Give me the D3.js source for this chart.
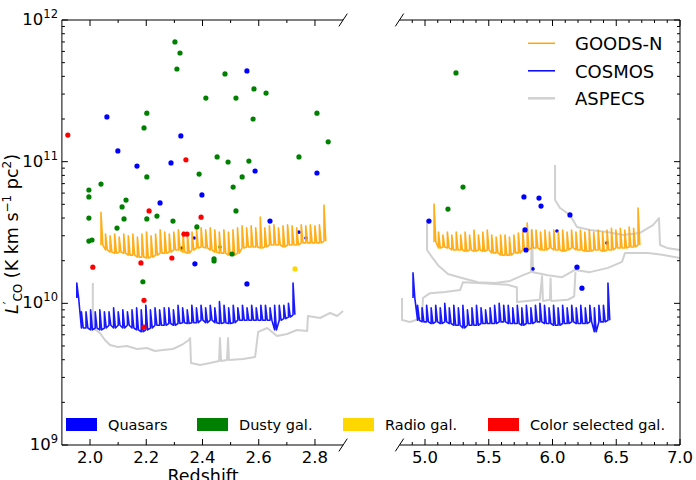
<!DOCTYPE html>
<html>
<head>
<meta charset="utf-8">
<script src="https://cdn.jsdelivr.net/npm/d3@7"></script>
<style>
  body { margin: 0; background: #fff; }
  svg { display: block; font-family: "DejaVu Sans", sans-serif; }
</style>
</head>
<body>
<div id="chart"></div>
<script>
// values of L'CO are in units of 1e10 K km s^-1 pc^2
const unit = 1e10

/*----- scatter: detected sources [redshift, L'CO] -----*/
const quasars = [[2.060,20.7],[2.099,11.9],[2.167,9.31],[2.249,5.11],[2.288,9.79],[2.323,15.2],[2.398,5.82],[2.373,1.90],
    [2.558,43.7],[2.587,8.59],[2.640,3.81],[2.807,8.32],[2.558,1.37],
    [5.031,3.81],[5.776,5.64],[5.894,5.53],[5.910,4.86],[6.137,4.21],[5.784,3.30],[5.792,2.38],[6.192,1.80],[6.231,1.28]]
const quasarsFaint = [[2.370,2.89],[2.743,3.18],[2.768,2.89],[6.035,3.24],[6.427,2.67],[5.847,1.75]]
const dusty = [[2.302,70.0],[2.320,58.5],[2.309,45.1],[2.480,41.6],[2.412,28.1],[2.519,28.1],[2.583,32.6],[2.626,30.5],
    [2.580,20.0],[2.202,22.0],[2.192,17.3],[2.807,22.0],[2.847,13.8],[2.452,10.8],[2.565,10.1],[2.491,9.95],[2.743,10.8],
    [2.388,8.18],[2.202,7.80],[2.541,7.80],[2.039,6.95],[1.996,6.31],[1.996,5.64],[2.509,6.62],[2.128,5.36],[2.114,4.79],
    [2.519,4.49],[1.996,4.00],[2.121,3.94],[2.202,3.94],[2.238,4.13],[2.295,3.81],[2.096,3.40],[2.380,3.46],[1.996,2.75],
    [2.007,2.80],[2.441,2.06],[2.441,1.99],[2.505,2.23],[2.188,1.42],
    [5.243,42.3],[5.298,6.62],[5.180,4.63]]
const dustyFaint = [[2.327,2.46],[2.462,2.50]]
const radio = [[2.729,1.75]]
const colorSelected = [[1.921,15.4],[2.341,10.3],[2.210,4.49],[2.395,4.06],[2.334,3.08],[2.345,3.08],[2.010,1.80],
    [2.181,1.93],[2.291,2.09],[2.192,1.05],[2.192,0.68]]

/*----- survey sensitivity curves (comb of channels: base and spike top) -----*/
const goodsLeftRange = [2.039, 2.832]
const goodsLeftBase = [2.58,2.38,2.30,2.26,2.30,2.26,2.19,2.19,2.12,2.12,
    2.09,2.12,2.19,2.26,2.26,2.30,2.38,2.38,2.30,2.26,
    2.38,2.46,2.50,2.46,2.38,2.30,2.26,2.26,2.19,2.19,
    2.26,2.46,2.50,2.50,2.50,2.46,2.50,2.58,2.58,2.58,
    2.50,2.58,2.58,2.58,2.67,2.67,2.67,2.67,2.67,2.75]
const goodsLeftTop = [4.40,3.08,3.00,3.08,2.94,3.08,3.00,3.08,2.94,3.08,
    3.19,3.00,3.08,3.30,3.19,3.08,3.19,3.30,3.19,3.08,
    3.19,3.30,3.41,3.30,3.41,3.30,3.19,3.30,3.19,3.30,
    3.41,3.52,3.41,3.52,3.41,4.07,3.41,3.52,3.58,3.41,
    3.52,3.58,3.52,3.41,3.58,3.52,3.58,3.52,3.58,4.95]

const goodsRightRange = [5.071, 6.671]
const goodsRightBase = [2.71,2.46,2.50,2.46,2.38,2.38,2.38,2.33,2.38,2.33,
    2.38,2.33,2.38,2.27,2.27,2.19,2.19,2.19,2.27,2.27,
    2.38,2.38,2.46,2.46,2.38,2.38,2.46,2.38,2.38,2.33,
    2.38,2.46,2.38,2.38,2.33,2.33,2.38,2.38,2.33,2.38,
    2.38,2.46,2.46,2.46,2.50,2.50,2.58]
const goodsRightTop = [5.02,3.19,3.04,3.19,3.04,3.19,3.04,3.19,3.04,3.29,
    3.04,3.19,3.29,3.04,2.94,3.04,3.04,2.94,3.04,3.14,
    3.19,3.69,3.29,3.29,3.19,3.29,3.19,3.29,3.19,3.29,
    3.19,3.29,3.19,3.29,3.19,3.29,3.19,3.29,3.19,3.29,
    3.38,3.29,3.38,3.29,3.46,3.38,4.71]

const cosmosLeftRange = [1.953, 2.722]
const cosmosLeftBase = [1.09,0.67,0.67,0.65,0.67,0.65,0.67,0.70,0.67,0.70,
    0.67,0.70,0.67,0.65,0.63,0.65,0.67,0.70,0.70,0.70,
    0.72,0.70,0.72,0.73,0.72,0.73,0.73,0.76,0.73,0.76,
    0.73,0.72,0.73,0.72,0.73,0.76,0.76,0.76,0.76,0.76,
    0.76,0.76,0.76,0.65,0.76,0.78,0.80,0.83]
const cosmosLeftTop = [1.39,0.87,0.87,0.90,0.87,0.90,0.87,0.87,0.93,0.87,
    0.90,0.87,0.90,0.93,0.90,0.97,0.90,0.93,0.90,0.93,
    0.93,0.90,0.97,0.93,0.90,0.97,0.93,0.97,0.93,0.97,
    0.93,1.03,0.97,0.93,0.97,0.93,0.97,0.93,0.97,0.93,
    0.97,0.97,0.93,0.97,0.97,0.97,1.00,1.39]

const cosmosRightRange = [4.906, 6.435]
const cosmosRightBase = [1.09,0.76,0.74,0.74,0.72,0.74,0.72,0.74,0.72,0.70,
    0.70,0.67,0.70,0.70,0.70,0.72,0.72,0.72,0.72,0.74,
    0.74,0.72,0.72,0.72,0.70,0.72,0.72,0.74,0.74,0.72,
    0.72,0.70,0.70,0.72,0.72,0.74,0.72,0.72,0.72,0.74,
    0.63,0.74,0.74,0.76]
const cosmosRightTop = [1.64,0.97,0.93,0.97,0.93,0.97,0.93,1.00,0.93,0.97,
    0.93,0.97,0.90,0.93,0.97,0.93,0.90,0.93,0.97,1.00,
    0.97,0.97,0.93,0.97,0.93,0.97,0.93,0.97,1.00,0.97,
    0.93,0.97,0.93,0.97,0.93,0.97,0.93,0.97,0.93,0.97,
    0.93,0.97,0.97,1.39]

const aspecsLeft = [[2.010,1.39],[2.010,0.681],[2.021,0.648],[2.035,0.618],[2.053,0.551],[2.071,0.508],[2.099,0.492],
    [2.131,0.500],[2.167,0.476],[2.202,0.484],[2.231,0.461],[2.259,0.469],[2.295,0.476],[2.331,0.516],[2.352,0.551],
    [2.356,0.569],[2.359,0.379],[2.391,0.367],[2.427,0.379],[2.459,0.392],[2.462,0.569],[2.466,0.392],[2.487,0.398],
    [2.491,0.569],[2.494,0.398],[2.544,0.405],[2.587,0.418],[2.598,0.628],[2.630,0.670],[2.665,0.588],[2.701,0.608],
    [2.736,0.648],[2.772,0.638],[2.775,0.814],[2.818,0.788],[2.854,0.855],[2.879,0.814],[2.900,0.883]]
const aspecsRightA = [[5.016,3.87],[5.016,2.38],[5.055,2.12],[5.102,1.86],[5.180,1.61],[5.290,1.51],[5.416,1.41],
    [5.549,1.39],[5.667,1.44],[5.769,1.58],[5.831,1.66],[5.839,3.29],[5.847,1.66],[5.965,1.58],[6.075,1.53],
    [6.176,1.72],[6.294,1.66],[6.435,1.78],[6.545,1.96],[6.569,2.27],[6.749,2.27],[6.859,2.20],[7.000,2.09]]
const aspecsRightB = [[6.020,9.47],[6.020,5.36],[6.059,4.71],[6.137,4.20],[6.192,3.46],[6.294,3.29],[6.427,3.19],
    [6.553,3.04],[6.686,3.14],[6.788,3.57],[6.835,4.00],[6.843,2.58],[6.898,2.46],[7.000,2.38]]
const aspecsRightC = [[4.820,1.09],[4.820,0.763],[4.882,0.738],[4.976,0.788],[4.984,1.09],[5.039,1.18],[5.157,1.20],
    [5.275,1.24],[5.298,1.41],[5.420,1.39],[5.550,1.37],[5.650,1.35],[5.720,1.30],[5.722,1.02],[5.800,1.04],
    [5.900,1.06],[5.918,1.55],[5.925,1.04],[5.980,1.06],[5.985,1.50],[5.990,1.04],[6.120,1.06],[6.170,1.12],[6.180,1.66]]

/*----- labels -----*/
const leftTicks = [2.0, 2.2, 2.4, 2.6, 2.8]
const rightTicks = [5.0, 5.5, 6.0, 6.5, 7.0]
const yTicks = [1e9, 1e10, 1e11, 1e12]
const lineLegend = [["GOODS-N", "orange", 1.5], ["COSMOS", "#0000ff", 1.5], ["ASPECS", "#d0d0d0", 2.5]]
const typeLegend = [["Quasars", "#0000ff", 66], ["Dusty gal.", "#008000", 197], ["Radio gal.", "#ffd700", 343], ["Color selected gal.", "#ff0000", 488]]

/*_______________ DRAWING _______________*/

const width = 696, height = 480
const plotTop = 20, plotBottom = 445

const svg = d3.select("#chart").append("svg")
    .attr("width", width)
    .attr("height", height)

const xLeft = d3.scaleLinear().domain([1.9, 2.9]).range([61.9, 343.1])
const xRight = d3.scaleLinear().domain([4.8, 7.0]).range([399.5, 680])
const y = d3.scaleLog().domain([1e9, 1e12]).range([plotBottom, plotTop])
const xOf = z => z < 4 ? xLeft(z) : xRight(z)

const line = d3.line()
    .x(d => xOf(d[0]))
    .y(d => y(d[1] * unit))

// comb: each channel rises to its spike top and falls back to its base
function comb(range, base, topv) {
    const step = (range[1] - range[0]) / (base.length - 1)
    const pts = []
    base.forEach((b, i) => {
        const z = range[0] + i * step
        pts.push([z, b], [z, topv[i]], [z + 0.4 * step, b])
    })
    return pts
}

// grey survey lines
const gGrey = svg.append("g")
    .attr("fill", "none")
    .attr("stroke", "#d0d0d0")
    .attr("stroke-width", 2)
    .attr("stroke-linejoin", "round")
;[aspecsLeft, aspecsRightA, aspecsRightB, aspecsRightC].forEach(s => gGrey.append("path").attr("d", line(s)))

// faint markers sit under the curves
function dots(data, color, r) {
    svg.append("g").selectAll("circle")
        .data(data)
        .join("circle")
        .attr("cx", d => xOf(d[0]))
        .attr("cy", d => y(d[1] * unit))
        .attr("r", r)
        .attr("fill", color)
}
dots(quasarsFaint, "#0000ff", 1.8)
dots(dustyFaint, "#008000", 1.8)

const curves = [
    [cosmosLeftRange, cosmosLeftBase, cosmosLeftTop, "#0000ff"],
    [cosmosRightRange, cosmosRightBase, cosmosRightTop, "#0000ff"],
    [goodsLeftRange, goodsLeftBase, goodsLeftTop, "orange"],
    [goodsRightRange, goodsRightBase, goodsRightTop, "orange"]
]
curves.forEach(([r, b, t, c]) => {
    svg.append("path")
        .attr("d", line(comb(r, b, t)))
        .attr("fill", "none")
        .attr("stroke", c)
        .attr("stroke-width", 1.6)
        .attr("stroke-linejoin", "round")
        .attr("stroke-opacity", 0.9)
})

dots(quasars, "#0000ff", 2.6)
dots(dusty, "#008000", 2.6)
dots(radio, "#ffd700", 2.6)
dots(colorSelected, "#ff0000", 2.6)

/*----- axes frame -----*/
const frame = svg.append("g").attr("stroke", "#000").attr("stroke-width", 1).attr("fill", "none")
const l0 = xLeft.range()[0], l1 = xLeft.range()[1], r0 = xRight.range()[0], r1 = xRight.range()[1]
frame.append("path").attr("d", `M${l1},${plotTop}H${l0}V${plotBottom}H${l1}`)
frame.append("path").attr("d", `M${r0},${plotTop}H${r1}V${plotBottom}H${r0}`)

// break marks
const dx = 4.2, dy = 6.4
;[[l1, plotTop], [l1, plotBottom], [r0, plotTop], [r0, plotBottom]].forEach(([px, py]) => {
    frame.append("line").attr("x1", px - dx).attr("y1", py + dy).attr("x2", px + dx).attr("y2", py - dy)
})

// x ticks (inward, top and bottom)
function xTicks(scale, majors, lo, hi) {
    const minors = d3.range(Math.round(lo * 10), Math.round(hi * 10) + 1).map(v => v / 10)
    minors.forEach(v => {
        const isMajor = majors.some(m => Math.abs(m - v) < 1e-6)
        const len = isMajor ? 6 : 3
        const px = scale(v)
        frame.append("line").attr("x1", px).attr("x2", px).attr("y1", plotBottom).attr("y2", plotBottom - len)
        frame.append("line").attr("x1", px).attr("x2", px).attr("y1", plotTop).attr("y2", plotTop + len)
    })
    svg.append("g").selectAll("text")
        .data(majors)
        .join("text")
        .attr("x", d => scale(d))
        .attr("y", 463)
        .attr("text-anchor", "middle")
        .attr("font-size", 16.5)
        .text(d => d.toFixed(1))
}
xTicks(xLeft, leftTicks, 2.0, 2.8)
xTicks(xRight, rightTicks, 4.9, 7.0)

// y ticks (left spine of left panel, right spine of right panel)
yTicks.forEach((t, i) => {
    const py = y(t)
    frame.append("line").attr("x1", l0).attr("x2", l0 + 6).attr("y1", py).attr("y2", py)
    frame.append("line").attr("x1", r1).attr("x2", r1 - 6).attr("y1", py).attr("y2", py)
    if (i < yTicks.length - 1) {
        for (let k = 2; k < 10; k++) {
            const my = y(t * k)
            frame.append("line").attr("x1", l0).attr("x2", l0 + 3).attr("y1", my).attr("y2", my)
            frame.append("line").attr("x1", r1).attr("x2", r1 - 3).attr("y1", my).attr("y2", my)
        }
    }
    const label = svg.append("text")
        .attr("x", 58)
        .attr("y", py + 5)
        .attr("text-anchor", "end")
        .attr("font-size", 16.5)
    label.append("tspan").text("10")
    label.append("tspan").attr("dy", -7).attr("font-size", 11.5).text(Math.round(Math.log10(t)))
})

// axis titles
svg.append("text")
    .attr("x", 203)
    .attr("y", 482)
    .attr("text-anchor", "middle")
    .attr("font-size", 17.5)
    .text("Redshift")

const ylab = svg.append("text")
    .attr("transform", "translate(18,234) rotate(-90)")
    .attr("text-anchor", "middle")
    .attr("font-size", 17.5)
ylab.append("tspan").attr("font-style", "italic").text("L")
ylab.append("tspan").attr("dy", -6).attr("font-size", 12).text("′")
ylab.append("tspan").attr("dy", 10).attr("font-size", 12).text("CO")
ylab.append("tspan").attr("dy", -4).text(" (K km s")
ylab.append("tspan").attr("dy", -7).attr("font-size", 12).text("−1")
ylab.append("tspan").attr("dy", 7).text(" pc")
ylab.append("tspan").attr("dy", -7).attr("font-size", 12).text("2")
ylab.append("tspan").attr("dy", 7).text(")")

/*----- legends -----*/
const legTop = svg.append("g")
lineLegend.forEach(([name, color, w], i) => {
    const ly = 43.3 + i * 27.5
    legTop.append("line")
        .attr("x1", 528).attr("x2", 555).attr("y1", ly).attr("y2", ly)
        .attr("stroke", color).attr("stroke-width", w)
    legTop.append("text")
        .attr("x", 575).attr("y", ly + 6.8)
        .attr("font-size", 18)
        .text(name)
})

const legBottom = svg.append("g")
typeLegend.forEach(([name, color, lx]) => {
    legBottom.append("rect")
        .attr("x", lx).attr("y", 418).attr("width", 31).attr("height", 13)
        .attr("fill", color)
    legBottom.append("text")
        .attr("x", lx + 42).attr("y", 429.5)
        .attr("font-size", 14.5)
        .text(name)
})
</script>
</body>
</html>
